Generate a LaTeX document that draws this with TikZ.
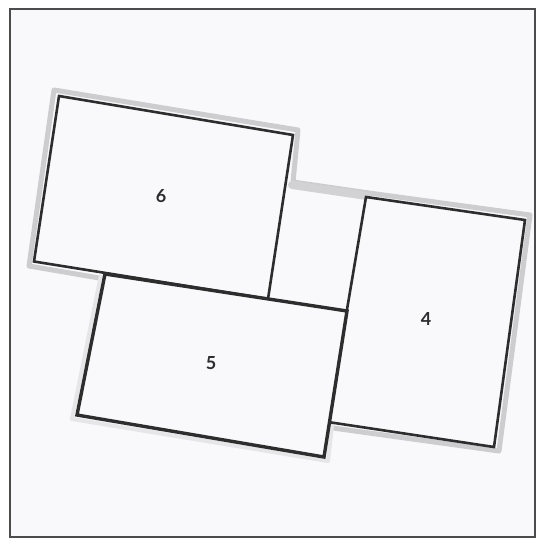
\documentclass[tikz,border=0pt]{standalone}
\usepackage{fontspec}
\setmainfont{Lato}
\definecolor{bgc}{RGB}{249,249,251}
\definecolor{ink}{RGB}{45,45,45}
\definecolor{shade}{RGB}{205,205,208}
\definecolor{shadelt}{RGB}{230,230,232}
\tikzset{
  card/.style={draw=ink, fill=bgc, line width=2.6pt, line join=miter},
  bigcard/.style={draw=ink, fill=bgc, line width=3.4pt, line join=miter},
  shadowline/.style={draw=shade, line width=5pt, line join=round, line cap=round},
  shadowlt/.style={draw=shadelt, line width=4pt, line join=round},
  lbl/.style={font=\fontsize{18}{18}\selectfont\bfseries, text=ink, inner sep=0pt},
  frame/.style={draw=ink!85, line width=2.2pt, fill=bgc}
}
\begin{document}
\begin{tikzpicture}[x=1pt,y=-1pt]
\useasboundingbox (0,0) rectangle (539,544);
\fill[white] (0,0) rectangle (539,544);
% outer frame
\draw[frame] (10,9) rectangle (535,537);
% gray shadow outlines
\draw[shadowline] (105,279) -- (29,266) -- (54,90) -- (298,130) -- (293,182)
   -- (369,193) -- (530,215) -- (499,451) -- (333,428);
\draw[shadowline, line width=8pt, draw=shade!90] (292,185) -- (367,196);
\draw[shadowlt] (101,275) -- (72,419) -- (328,461) -- (343,330);
% cards
\draw[card] (59,96) coordinate (c6a) -- (293,135) coordinate (c6b)
   -- (268,299) coordinate (c6c) -- (34,261.5) coordinate (c6d) -- cycle;
\draw[card] (366,197) coordinate (c4a) -- (525,220) coordinate (c4b)
   -- (494,447) coordinate (c4c) -- (328,422) coordinate (c4d) -- cycle;
\draw[bigcard] (105,274) coordinate (c5a) -- (347,311) coordinate (c5b)
   -- (324,457) coordinate (c5c) -- (77,415) coordinate (c5d) -- cycle;
% labels
\node[lbl] (l6) at (161,196) {6};
\node[lbl] (l5) at (211,363) {5};
\node[lbl] (l4) at (426,319) {4};
\end{tikzpicture}
\end{document}
